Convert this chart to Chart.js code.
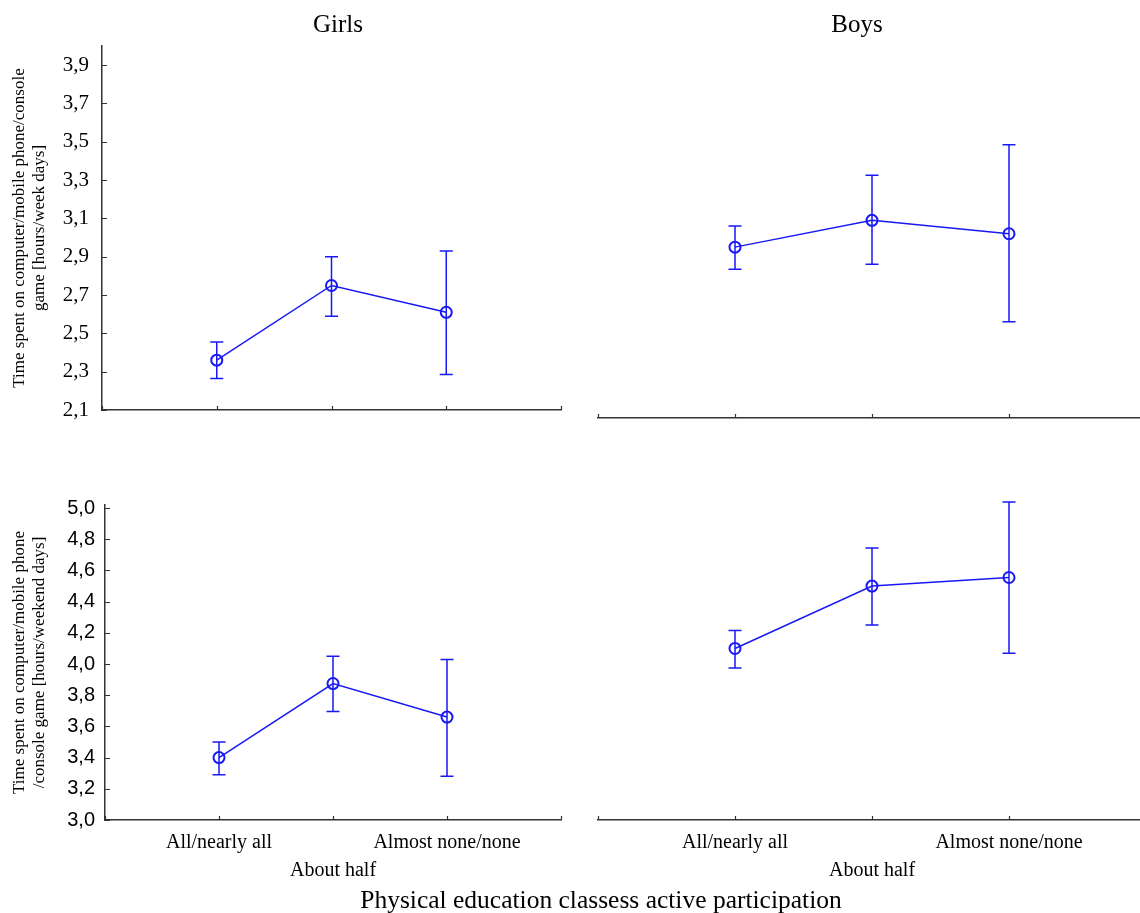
<!DOCTYPE html>
<html>
<head>
<meta charset="utf-8">
<script src="https://cdn.jsdelivr.net/npm/chart.js@4.4.0/dist/chart.umd.min.js"></script>
<style>
  html, body { margin: 0; padding: 0; background: #fff; overflow: hidden; width: 1140px; height: 913px; }
  .panel { position: absolute; }
  .txt { position: absolute; font-family: "Liberation Serif", "Times New Roman", serif; color: #000;
         white-space: nowrap; transform: translateX(-50%); line-height: 28px; }
</style>
</head>
<body>
<div class="panel" style="left:0;top:0"><canvas id="girlsWeek" width="580" height="440"></canvas></div>
<div class="panel" style="left:580px;top:0"><canvas id="boysWeek" width="580" height="430"></canvas></div>
<div class="panel" style="left:0;top:430px"><canvas id="girlsWeekend" width="580" height="483"></canvas></div>
<div class="panel" style="left:580px;top:430px"><canvas id="boysWeekend" width="580" height="483"></canvas></div>

<div class="txt" style="left:338px;top:10px;font-size:25px">Girls</div>
<div class="txt" style="left:857px;top:10px;font-size:25px">Boys</div>
<div class="txt" style="left:601px;top:886px;font-size:25.5px">Physical education classess active participation</div>

<script>
// -- data
const categories = ["All/nearly all", "About half", "Almost none/none"];
const catPos = [1, 2, 3];
const xTicks = [0, 1, 2, 3, 4];

// week days (hours)
const girlsWeekMean = [2.36, 2.75, 2.61];
const girlsWeekLo = [2.265, 2.59, 2.285];
const girlsWeekHi = [2.455, 2.90, 2.93];
const boysWeekMean = [2.95, 3.09, 3.02];
const boysWeekLo = [2.835, 2.86, 2.56];
const boysWeekHi = [3.06, 3.325, 3.485];

// weekend days (hours)
const girlsWeekendMean = [3.40, 3.875, 3.66];
const girlsWeekendLo = [3.29, 3.695, 3.28];
const girlsWeekendHi = [3.50, 4.05, 4.03];
const boysWeekendMean = [4.10, 4.50, 4.555];
const boysWeekendLo = [3.975, 4.25, 4.07];
const boysWeekendHi = [4.215, 4.745, 5.04];

// y ticks
const weekTicks = [2.1, 2.2, 2.3, 2.4, 2.5, 2.6, 2.7, 2.8, 2.9, 3.0,
                   3.1, 3.2, 3.3, 3.4, 3.5, 3.6, 3.7, 3.8, 3.9, 4.0];
const weekLabels = [2.1, 2.3, 2.5, 2.7, 2.9, 3.1, 3.3, 3.5, 3.7, 3.9];
const weekendTicks = [3.0, 3.1, 3.2, 3.3, 3.4, 3.5, 3.6, 3.7, 3.8, 3.9, 4.0,
                      4.1, 4.2, 4.3, 4.4, 4.5, 4.6, 4.7, 4.8, 4.9, 5.0];
const weekendLabels = [3.0, 3.2, 3.4, 3.6, 3.8, 4.0, 4.2, 4.4, 4.6, 4.8, 5.0];

const weekTitle = ["Time spent on computer/mobile phone/console", "game [hours/week days]"];
const weekendTitle = ["Time spent on computer/mobile phone", "/console game [hours/weekend days]"];

const BLUE = "rgb(25,25,245)";
const AXIS = "#333";
const SERIF = "'Liberation Serif', 'Times New Roman', serif";
const SANS = "'Liberation Sans', Arial, sans-serif";

// -- plugins
const errorBars = {
  id: "errorBars",
  beforeDatasetsDraw(chart) {
    const ctx = chart.ctx;
    const xs = chart.scales.x, ys = chart.scales.y;
    chart.data.datasets.forEach((ds) => {
      ctx.save();
      ctx.strokeStyle = BLUE;
      ctx.lineWidth = 1.5;
      ds.data.forEach((p, i) => {
        const x = xs.getPixelForValue(p.x);
        const yl = ys.getPixelForValue(ds.lo[i]);
        const yh = ys.getPixelForValue(ds.hi[i]);
        ctx.beginPath();
        ctx.moveTo(x, yl); ctx.lineTo(x, yh);
        ctx.moveTo(x - 6.5, yl); ctx.lineTo(x + 6.5, yl);
        ctx.moveTo(x - 6.5, yh); ctx.lineTo(x + 6.5, yh);
        ctx.stroke();
      });
      ctx.restore();
    });
  },
};

// ticks pointing into the plot
const inwardTicks = {
  id: "inwardTicks",
  afterDraw(chart) {
    const ctx = chart.ctx;
    const xs = chart.scales.x, ys = chart.scales.y;
    const area = chart.chartArea;
    ctx.save();
    ctx.strokeStyle = AXIS;
    ctx.lineWidth = 1.2;
    ctx.beginPath();
    xs.ticks.forEach((t) => {
      const x = Math.round(xs.getPixelForValue(t.value)) + 0.5;
      ctx.moveTo(x, area.bottom);
      ctx.lineTo(x, area.bottom - 4);
    });
    if (ys.options.display) {
      ys.ticks.forEach((t) => {
        const y = Math.round(ys.getPixelForValue(t.value)) + 0.5;
        ctx.moveTo(area.left, y);
        ctx.lineTo(area.left + 5, y);
      });
    }
    ctx.stroke();
    ctx.restore();
  },
};

function fmt(v) {
  return v.toFixed(1).replace(".", ",");
}

function makePanel(id, cfg) {
  const points = cfg.mean.map((v, i) => ({ x: catPos[i], y: v }));
  return new Chart(document.getElementById(id), {
    type: "line",
    data: {
      datasets: [
        {
          data: points,
          lo: cfg.lo,
          hi: cfg.hi,
          borderColor: BLUE,
          borderWidth: 1.5,
          pointRadius: 5.5,
          pointBorderWidth: 2,
          pointBorderColor: BLUE,
          pointBackgroundColor: "rgba(0,0,0,0)",
          tension: 0,
          clip: false,
        },
      ],
    },
    options: {
      responsive: false,
      animation: false,
      devicePixelRatio: 1,
      layout: { padding: cfg.pad },
      plugins: { legend: { display: false }, tooltip: { enabled: false } },
      scales: {
        x: {
          type: "linear",
          min: 0,
          max: 4,
          afterBuildTicks: (s) => { s.ticks = xTicks.map((v) => ({ value: v })); },
          afterFit: (s) => { s.height = cfg.xHeight; },
          grid: { display: false, drawTicks: false },
          border: { display: true, color: AXIS, width: 1.5 },
          ticks: {
            display: cfg.xLabels,
            padding: 9,
            color: "#000",
            autoSkip: false,
            maxRotation: 0,
            minRotation: 0,
            font: { family: SERIF, size: 20, lineHeight: 1.4 },
            callback: (v) => {
              const i = catPos.indexOf(v);
              if (i < 0) return "";
              return i === 1 ? ["", categories[i]] : categories[i];
            },
          },
        },
        y: {
          display: cfg.yShow,
          min: cfg.yMin,
          max: cfg.yMax,
          afterBuildTicks: (s) => { s.ticks = cfg.yTicks.map((v) => ({ value: v })); },
          afterFit: (s) => { s.width = cfg.yWidth; },
          grid: { display: false, drawTicks: false },
          border: { display: true, color: AXIS, width: 1.5 },
          title: {
            display: true,
            text: cfg.yTitle,
            color: "#000",
            padding: { top: 9, bottom: 0 },
            font: { family: SERIF, size: 17, lineHeight: 1.2 },
          },
          ticks: {
            padding: cfg.yPad,
            color: "#000",
            font: cfg.yFont,
            callback: (v) => {
              const r = Math.round(v * 10) / 10;
              return cfg.yLabels.some((l) => Math.abs(l - r) < 1e-6) ? fmt(r) : "";
            },
          },
        },
      },
    },
    plugins: [errorBars, inwardTicks],
  });
}

window.addEventListener("load", () => {
  makePanel("girlsWeek", {
    mean: girlsWeekMean, lo: girlsWeekLo, hi: girlsWeekHi,
    pad: { left: 0, top: 46, right: 19, bottom: 0 },
    xHeight: 30, xLabels: false,
    yShow: true, yWidth: 102, yMin: 2.1, yMax: 4.0, yPad: 13,
    yTicks: weekTicks, yLabels: weekLabels, yTitle: weekTitle,
    yFont: { family: SERIF, size: 21 },
  });
  makePanel("boysWeek", {
    mean: boysWeekMean, lo: boysWeekLo, hi: boysWeekHi,
    pad: { left: 18, top: 46, right: 14, bottom: 0 },
    xHeight: 12, xLabels: false,
    yShow: false, yWidth: 0, yMin: 2.058, yMax: 4.0, yPad: 13,
    yTicks: weekTicks, yLabels: weekLabels, yTitle: weekTitle,
    yFont: { family: SERIF, size: 21 },
  });
  makePanel("girlsWeekend", {
    mean: girlsWeekendMean, lo: girlsWeekendLo, hi: girlsWeekendHi,
    pad: { left: 0, top: 75, right: 19, bottom: 0 },
    xHeight: 93, xLabels: true,
    yShow: true, yWidth: 105, yMin: 3.0, yMax: 5.02, yPad: 10,
    yTicks: weekendTicks, yLabels: weekendLabels, yTitle: weekendTitle,
    yFont: { family: SANS, size: 20 },
  });
  makePanel("boysWeekend", {
    mean: boysWeekendMean, lo: boysWeekendLo, hi: boysWeekendHi,
    pad: { left: 18, top: 75, right: 14, bottom: 0 },
    xHeight: 93, xLabels: true,
    yShow: false, yWidth: 0, yMin: 3.0, yMax: 5.02, yPad: 10,
    yTicks: weekendTicks, yLabels: weekendLabels, yTitle: weekendTitle,
    yFont: { family: SANS, size: 20 },
  });
});
</script>
</body>
</html>
